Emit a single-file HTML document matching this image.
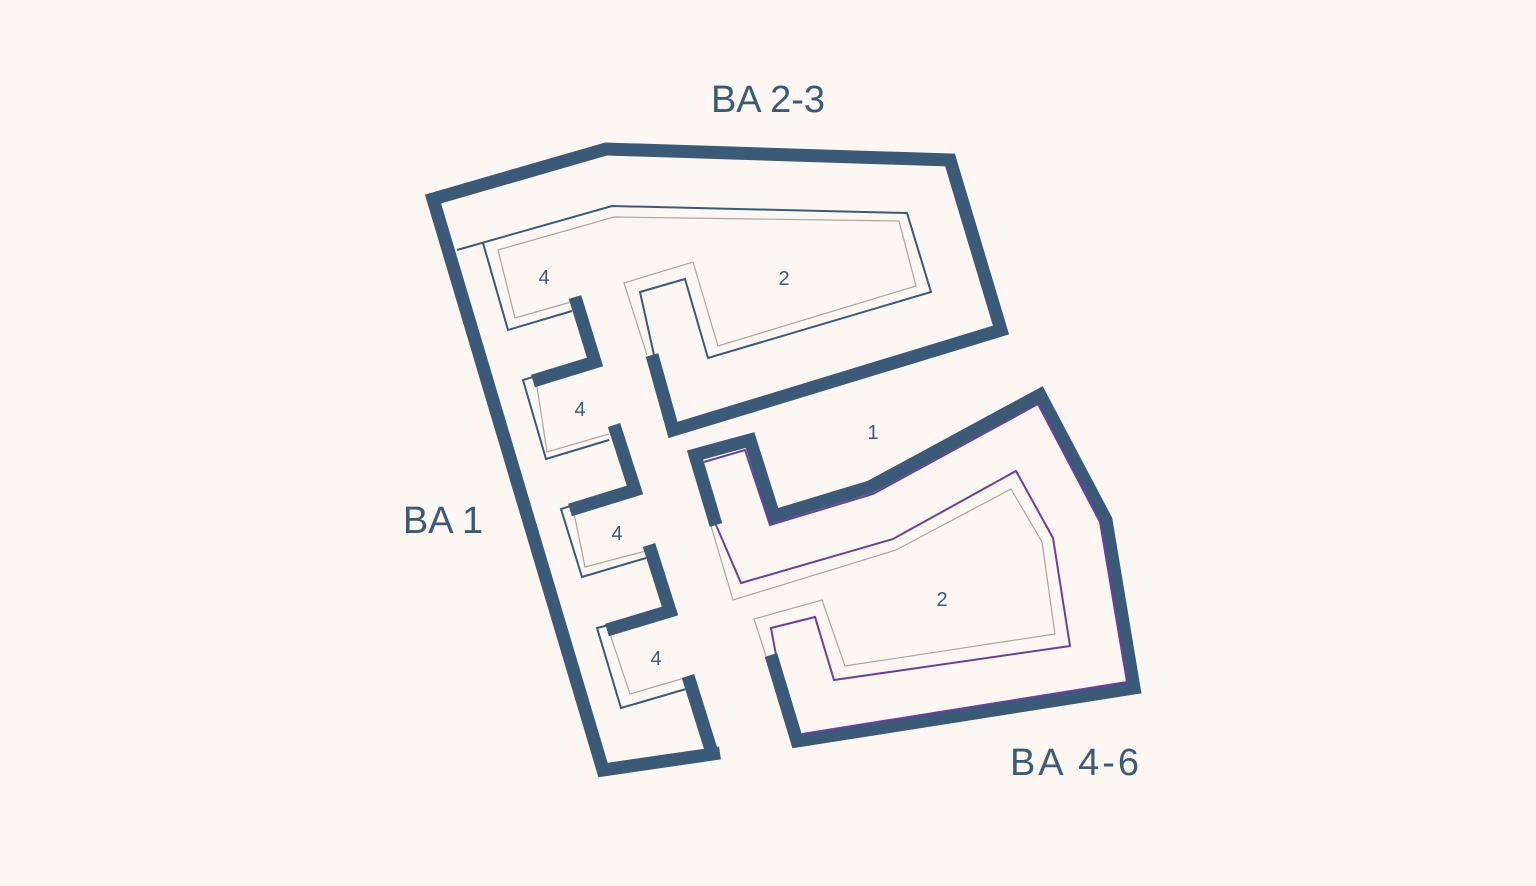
<!DOCTYPE html>
<html><head><style>
html,body{margin:0;padding:0;background:#fdf7f3;}
svg{display:block}
text{font-family:"Liberation Sans",sans-serif;fill:#3a5a78}
</style></head><body>
<svg width="1536" height="886" viewBox="0 0 1536 886">
<rect width="1536" height="886" fill="#fdf7f3"/>
<g fill="none" stroke-linejoin="miter">
<g stroke="#a9a6a3" stroke-width="1.2">
<polyline points="498,250 614,217 899,221 916,286 718,346 693,262 624,283 647,355"/>
<polyline points="498,250 515,318 571,302"/>
<polyline points="536,380 547,452 609,434"/>
<polyline points="573,508 585,567 646,551"/>
<polyline points="608,628 630,694 688,677"/>
<polyline points="711,526 733,600 896,550 1011,489 1042,542 1055,634 845,666 822,600 754,619 766,656"/>
</g>
<g stroke="#3a5a78" stroke-width="2">
<polyline points="457,250 612,206 907,213 931,292 708,358 685,279 640,292 654,355"/>
<polyline points="483,243 508,330 572,311"/>
<polyline points="536,376 523,380 546,459 609,440"/>
<polyline points="574,505 561,509 582,577 646,558"/>
<polyline points="609,625 597,628 621,708 686,689"/>
</g>
<g stroke="#6a3fa0" stroke-width="2">
<polyline points="716,525 741,583 893,539 1016,471 1053,538 1070,646 834,680 815,617 771,628 776,655"/>
</g>
<g stroke="#3a5a78" stroke-width="13">
<polyline points="720,753 603,770 433,199 606,149 950,160 1001,330 673,430 652,355"/>
<polyline points="575,297 595,362 533,381"/>
<polyline points="614,425 635,490 570,510"/>
<polyline points="649,545 670,611 607,630"/>
<polyline points="688,676 713,756"/>
<polyline points="771,655 797,741 1134,688 1106,520 1040,395 870,487 774,516 750,440 695,455 716,525"/>
</g>
<g stroke="#6a3fa0" stroke-width="2">
<polyline points="704,462 745,450 770,525 873,494 1038,404 1100,522 1127,682 802,734"/>
</g>
</g>
<text x="768" y="112" font-size="38" text-anchor="middle">BA 2-3</text>
<text x="443" y="533" font-size="38" text-anchor="middle">BA 1</text>
<text x="1076" y="775" font-size="38" text-anchor="middle" letter-spacing="3">BA 4-6</text>
<g font-size="20" text-anchor="middle">
<text x="544" y="284">4</text>
<text x="580" y="416">4</text>
<text x="617" y="540">4</text>
<text x="656" y="665">4</text>
<text x="784" y="285">2</text>
<text x="873" y="439">1</text>
<text x="942" y="606">2</text>
</g>
</svg>
</body></html>
